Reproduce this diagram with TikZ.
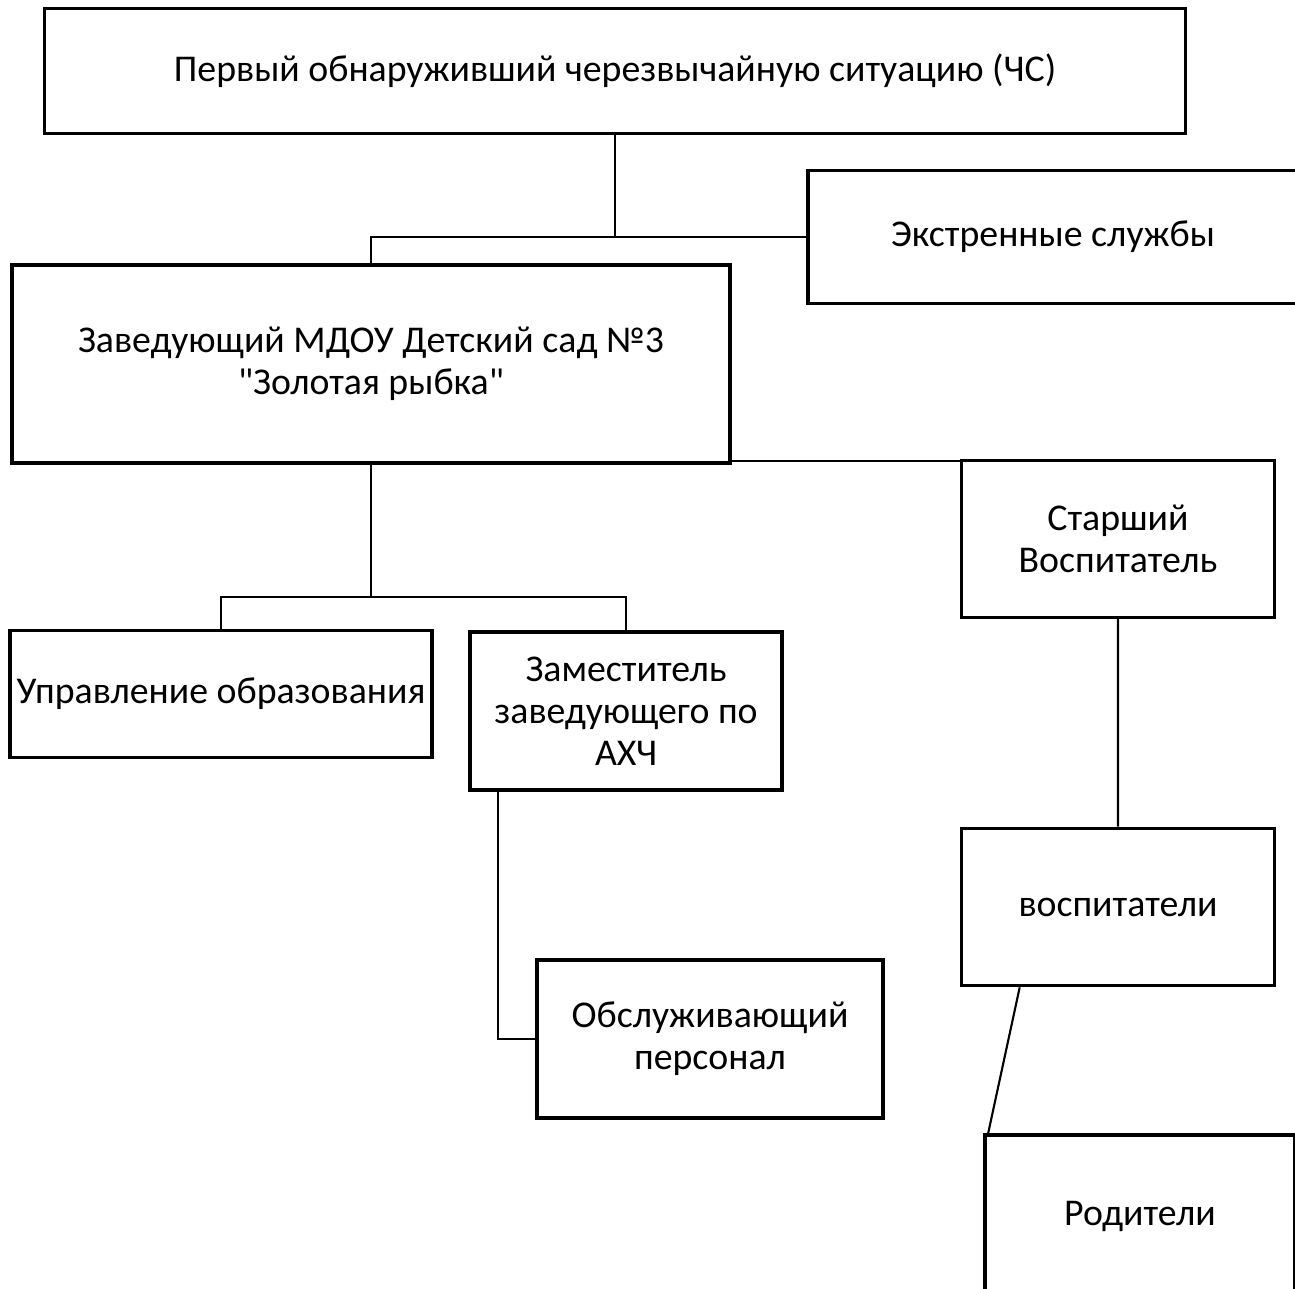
\documentclass[tikz,border=0pt]{standalone}
\usepackage{fontspec}
\setmainfont{Carlito}
\usepackage{tikz}
\usetikzlibrary{positioning}
\tikzset{box/.style={draw, line width=1pt, align=center, inner sep=0pt, font=\fontsize{10.75}{12}\selectfont}}

\begin{document}
\begin{tikzpicture}[x=0.01cm, y=-0.01cm, link/.style={draw, line width=0.6pt}]
\useasboundingbox (0,0) rectangle (1295,1289);
\clip (0,0) rectangle (1295,1289);
\node[box, minimum width=11.40cm, minimum height=1.25cm] (perv) at (615,71) {Первый обнаруживший черезвычайную ситуацию (ЧС)};
\node[box, minimum width=4.90cm, minimum height=1.33cm] (ekstr) at (1053,237) {Экстренные службы};
\node[box, minimum width=7.18cm, minimum height=1.98cm] (zav) at (371,364) {Заведующий МДОУ Детский сад №3\\\textquotedbl Золотая рыбка\textquotedbl};
\node[box, minimum width=3.13cm, minimum height=1.57cm] (starsh) at (1118,539) {Старший\\Воспитатель};
\node[box, minimum width=4.22cm, minimum height=1.27cm] (uprav) at (221,694) {Управление образования};
\node[box, minimum width=3.12cm, minimum height=1.58cm] (zam) at (626,711) {Заместитель\\заведующего по\\АХЧ};
\node[box, minimum width=3.13cm, minimum height=1.57cm] (vospit) at (1118,907) {воспитатели};
\node[box, minimum width=3.46cm, minimum height=1.58cm] (obsl) at (710,1039) {Обслуживающий\\персонал};
\node[box, minimum width=3.10cm, minimum height=1.62cm] (rodit) at (1140,1216) {Родители};
\coordinate (j1) at (perv.south |- ekstr.west);
\coordinate (j2) at (371,597);
\draw[link] (perv.south) -- (j1) -- (ekstr.west);
\draw[link] (j1) -| (zav.north);
\draw[link] ([yshift=-0.2mm]zav.east |- starsh.north) -- ([yshift=-0.2mm]starsh.north west);
\draw[link] (zav.south) -- (j2) -| (uprav.north);
\draw[link] (j2) -| (zam.north);
\draw[link] (starsh.south) -- ++(0,-1.78) -- ++(0.02,0) -- (vospit.north);
\draw[link] ([xshift=3mm]zam.south west) |- (obsl.west);
\draw[link] ([xshift=6mm]vospit.south west) -- ([xshift=0.5mm]rodit.north west);
\end{tikzpicture}
\end{document}
